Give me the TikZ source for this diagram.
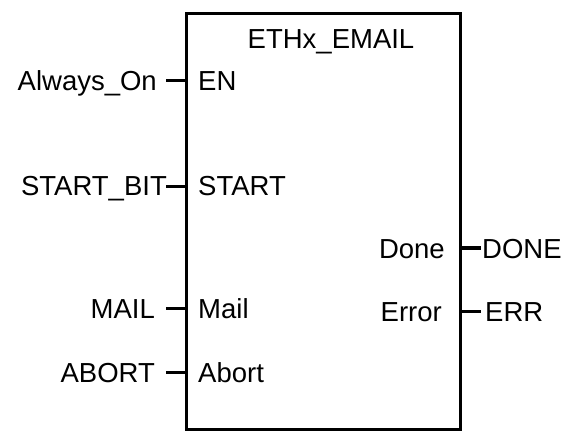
\documentclass[tikz,border=0pt]{standalone}
\usepackage{fontspec}
\setmainfont{Liberation Sans}
\begin{document}
\begin{tikzpicture}[x=1pt,y=-1pt,
  lbl/.style={font=\fontsize{27.5}{32}\selectfont, inner sep=0pt},
  stub/.style={line width=3pt},
  fb/.style={draw, line width=3pt, minimum width=274pt, minimum height=416pt, inner sep=0pt}]
\useasboundingbox (0,0) rectangle (567,431);
\node[fb] (box) at (323,221) {};
\node[lbl, anchor=base] (title) at (331,48) {ETHx\_EMAIL};
% inputs
\node[lbl, anchor=base east] (ao) at (157,90) {Always\_On};
\node[lbl, anchor=base west] (en) at (198,90) {EN};
\node[lbl, anchor=base east] (sb) at (167,195) {START\_BIT};
\node[lbl, anchor=base west] (st) at (198,195) {START};
\node[lbl, anchor=base east] (ml) at (155,318) {MAIL};
\node[lbl, anchor=base west] (mi) at (198,318) {Mail};
\node[lbl, anchor=base east] (ab) at (155,382) {ABORT};
\node[lbl, anchor=base west] (ao2) at (198,382) {Abort};
% outputs
\node[lbl, anchor=base east] (dn) at (445,258) {Done};
\node[lbl, anchor=base west] (DN) at (482,258) {DONE};
\node[lbl, anchor=base east] (er) at (442,321) {Error};
\node[lbl, anchor=base west] (ER) at (485,321) {ERR};
% stubs
\coordinate (p1) at (166,80);
\coordinate (p2) at (166,186);
\coordinate (p3) at (166,308);
\coordinate (p4) at (166,372);
\coordinate (q1) at (481,248);
\coordinate (q2) at (481,311);
\draw[stub] (p1) -- (p1 -| box.west);
\draw[stub] (p2) -- (p2 -| box.west);
\draw[stub] (p3) -- (p3 -| box.west);
\draw[stub] (p4) -- (p4 -| box.west);
\draw[stub, line width=4pt] (q1 -| box.east) -- (q1);
\draw[stub] (q2 -| box.east) -- (q2);
\end{tikzpicture}
\end{document}
